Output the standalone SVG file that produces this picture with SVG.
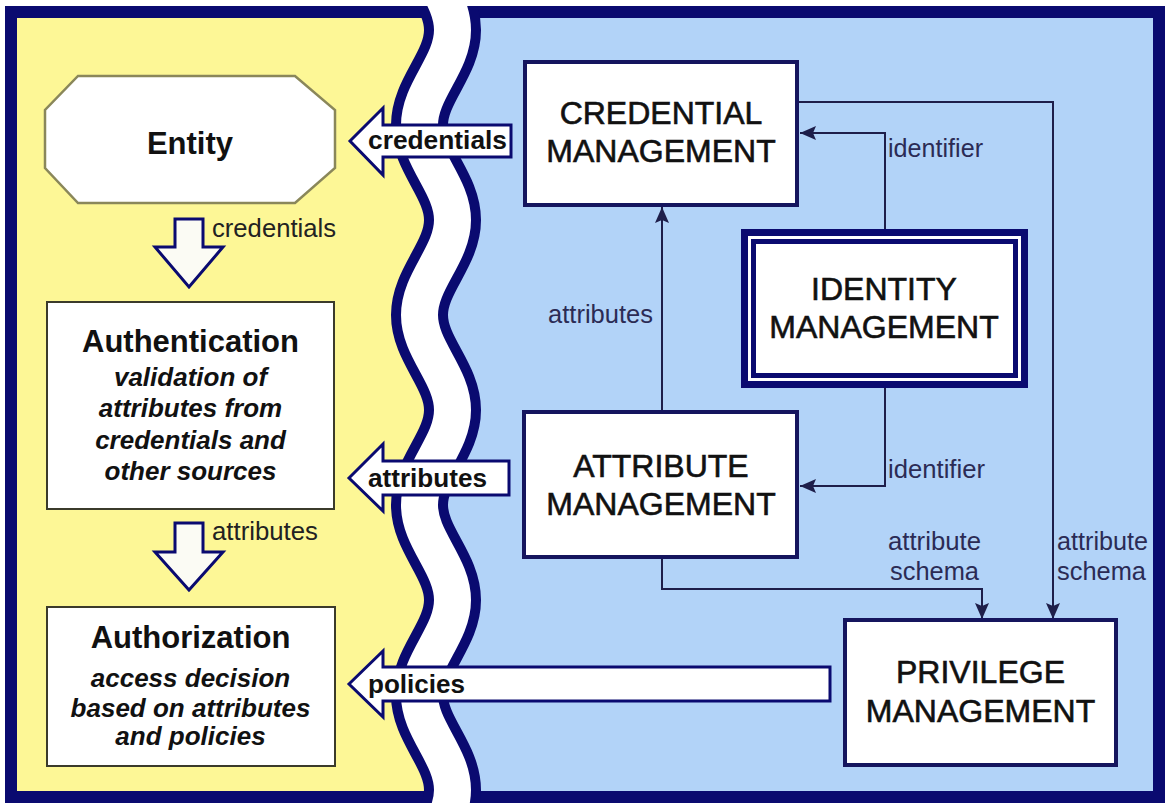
<svg xmlns="http://www.w3.org/2000/svg" width="1165" height="803" viewBox="0 0 1165 803">
<defs>
<style>
.box{fill:#fff;stroke:#15155e;stroke-width:4}
.lbox{fill:#fff;stroke:#3b3b2b;stroke-width:2}
.conn{fill:none;stroke:#1e1e4a;stroke-width:2}
.barrow{fill:#fff;stroke:#0a0a70;stroke-width:3;stroke-linejoin:miter}
.sarrow{fill:#fbfbf4;stroke:#0a0a70;stroke-width:3;stroke-linejoin:miter}
.big{font-family:"Liberation Sans",Arial,sans-serif;font-size:32px;fill:#111;stroke:#111;stroke-width:0.6;text-anchor:middle}
.title{font-family:"Liberation Sans",Arial,sans-serif;font-size:31px;font-weight:bold;fill:#111;text-anchor:middle}
.ital{font-family:"Liberation Sans",Arial,sans-serif;font-size:26px;font-weight:bold;font-style:italic;fill:#111;text-anchor:middle}
.btext{font-family:"Liberation Sans",Arial,sans-serif;font-size:26px;font-weight:bold;fill:#111}
.lbl{font-family:"Liberation Sans",Arial,sans-serif;font-size:25px;fill:#222}
.rlbl{font-family:"Liberation Sans",Arial,sans-serif;font-size:25px;fill:#2b2b55}
</style>
<marker id="ah" markerUnits="userSpaceOnUse" markerWidth="16" markerHeight="14" refX="16" refY="7" orient="auto">
<path d="M0,0 L16,7 L0,14 L3,7 Z" fill="#1e1e4a"/>
</marker>
<clipPath id="inner"><rect x="17" y="18" width="1137" height="773"/></clipPath>
<clipPath id="waveclip"><rect x="0" y="6" width="1165" height="797"/></clipPath>
</defs>
<rect x="0" y="0" width="1165" height="803" fill="#fff"/>
<g id="background">
<rect x="17" y="18" width="1137" height="773" fill="#b2d3f8"/>
<path clip-path="url(#inner)" fill="#fdf796" d="M0,-65 L419.5,-65 C419.5,-30.5 452.5,-4.5 452.5,30 S419.5,90.5 419.5,125 S452.5,185.5 452.5,220 S419.5,280.5 419.5,315 S452.5,375.5 452.5,410 S419.5,470.5 419.5,505 S452.5,565.5 452.5,600 S419.5,660.5 419.5,695 S452.5,755.5 452.5,790 S419.5,850.5 419.5,885 L0,885 Z"/>
<rect x="11" y="12" width="1148" height="785" fill="none" stroke="#0a0a70" stroke-width="12"/>
<g clip-path="url(#waveclip)" fill="none">
<path id="wave" stroke="#0a0a70" stroke-width="57" d="M419.5,-65 C419.5,-30.5 452.5,-4.5 452.5,30 S419.5,90.5 419.5,125 S452.5,185.5 452.5,220 S419.5,280.5 419.5,315 S452.5,375.5 452.5,410 S419.5,470.5 419.5,505 S452.5,565.5 452.5,600 S419.5,660.5 419.5,695 S452.5,755.5 452.5,790 S419.5,850.5 419.5,885"/>
<path stroke="#ffffff" stroke-width="37" d="M419.5,-65 C419.5,-30.5 452.5,-4.5 452.5,30 S419.5,90.5 419.5,125 S452.5,185.5 452.5,220 S419.5,280.5 419.5,315 S452.5,375.5 452.5,410 S419.5,470.5 419.5,505 S452.5,565.5 452.5,600 S419.5,660.5 419.5,695 S452.5,755.5 452.5,790 S419.5,850.5 419.5,885"/>
</g>
</g>
<g id="connectors">
<path class="conn" d="M797,102 H1053 V619" marker-end="url(#ah)"/>
<path class="conn" d="M885,229 V133 H800" marker-end="url(#ah)"/>
<path class="conn" d="M885,388 V486 H800" marker-end="url(#ah)"/>
<path class="conn" d="M662,412 V207" marker-end="url(#ah)"/>
<path class="conn" d="M662,557 V589 H982 V619" marker-end="url(#ah)"/>
<polygon class="barrow" points="350,141 383,108 383,125 511,125 511,157 383,157 383,175"/>
<text class="btext" x="368" y="149" textLength="139" lengthAdjust="spacingAndGlyphs">credentials</text>
<polygon class="barrow" points="349,478 383,444 383,461 509,461 509,495 383,495 383,511"/>
<text class="btext" x="368" y="487" textLength="119" lengthAdjust="spacingAndGlyphs">attributes</text>
<polygon class="barrow" points="349,684 383,651 383,667 830,667 830,701 383,701 383,717"/>
<text class="btext" x="368" y="693" textLength="97" lengthAdjust="spacingAndGlyphs">policies</text>
<polygon class="sarrow" points="175,219 203,219 203,247 223,247 189,287 155,247 175,247"/>
<text class="lbl" x="212" y="237" textLength="124" lengthAdjust="spacingAndGlyphs">credentials</text>
<polygon class="sarrow" points="175,523 203,523 203,552 223,552 189,590 155,552 175,552"/>
<text class="lbl" x="212" y="540" textLength="106" lengthAdjust="spacingAndGlyphs">attributes</text>
<text class="rlbl" x="548" y="323" textLength="105" lengthAdjust="spacingAndGlyphs">attributes</text>
<text class="rlbl" x="888" y="157" textLength="95" lengthAdjust="spacingAndGlyphs">identifier</text>
<text class="rlbl" x="888" y="478" textLength="97" lengthAdjust="spacingAndGlyphs">identifier</text>
<text class="rlbl" x="888" y="550" textLength="93" lengthAdjust="spacingAndGlyphs">attribute</text>
<text class="rlbl" x="890" y="580" textLength="89" lengthAdjust="spacingAndGlyphs">schema</text>
<text class="rlbl" x="1057" y="550" textLength="91" lengthAdjust="spacingAndGlyphs">attribute</text>
<text class="rlbl" x="1057" y="580" textLength="89" lengthAdjust="spacingAndGlyphs">schema</text>
</g>
<g id="entity">
<polygon points="78,76 295,76 335,110 335,168 295,203 78,203 45,168 45,110" fill="#fff" stroke="#8a875a" stroke-width="2.5"/>
<text class="title" x="190" y="154">Entity</text>
</g>
<g id="authentication">
<rect class="lbox" x="47" y="302" width="287" height="207"/>
<text class="title" x="190.5" y="352">Authentication</text>
<text class="ital" x="190.5" y="386">validation of</text>
<text class="ital" x="190.5" y="417">attributes from</text>
<text class="ital" x="190.5" y="449">credentials and</text>
<text class="ital" x="190.5" y="480">other sources</text>
</g>
<g id="authorization">
<rect class="lbox" x="47" y="607" width="288" height="159"/>
<text class="title" x="190.5" y="648">Authorization</text>
<text class="ital" x="190.5" y="687">access decision</text>
<text class="ital" x="190.5" y="717">based on attributes</text>
<text class="ital" x="190.5" y="745">and policies</text>
</g>
<g id="credential-management">
<rect class="box" x="525" y="62" width="272" height="143"/>
<text class="big" x="661" y="124">CREDENTIAL</text>
<text class="big" x="661" y="162">MANAGEMENT</text>
</g>
<g id="identity-management">
<rect x="741" y="229" width="287" height="159" fill="#0a0a70"/>
<rect x="748" y="236" width="273" height="145" fill="#fff"/>
<rect x="751" y="239" width="267" height="139" fill="#0a0a70"/>
<rect x="756" y="244" width="257" height="129" fill="#fff"/>
<text class="big" x="884" y="300">IDENTITY</text>
<text class="big" x="884" y="338">MANAGEMENT</text>
</g>
<g id="attribute-management">
<rect class="box" x="524" y="412" width="273" height="145"/>
<text class="big" x="661" y="477">ATTRIBUTE</text>
<text class="big" x="661" y="515">MANAGEMENT</text>
</g>
<g id="privilege-management">
<rect class="box" x="845" y="620" width="271" height="145"/>
<text class="big" x="980.5" y="683">PRIVILEGE</text>
<text class="big" x="980.5" y="722">MANAGEMENT</text>
</g>
</svg>
